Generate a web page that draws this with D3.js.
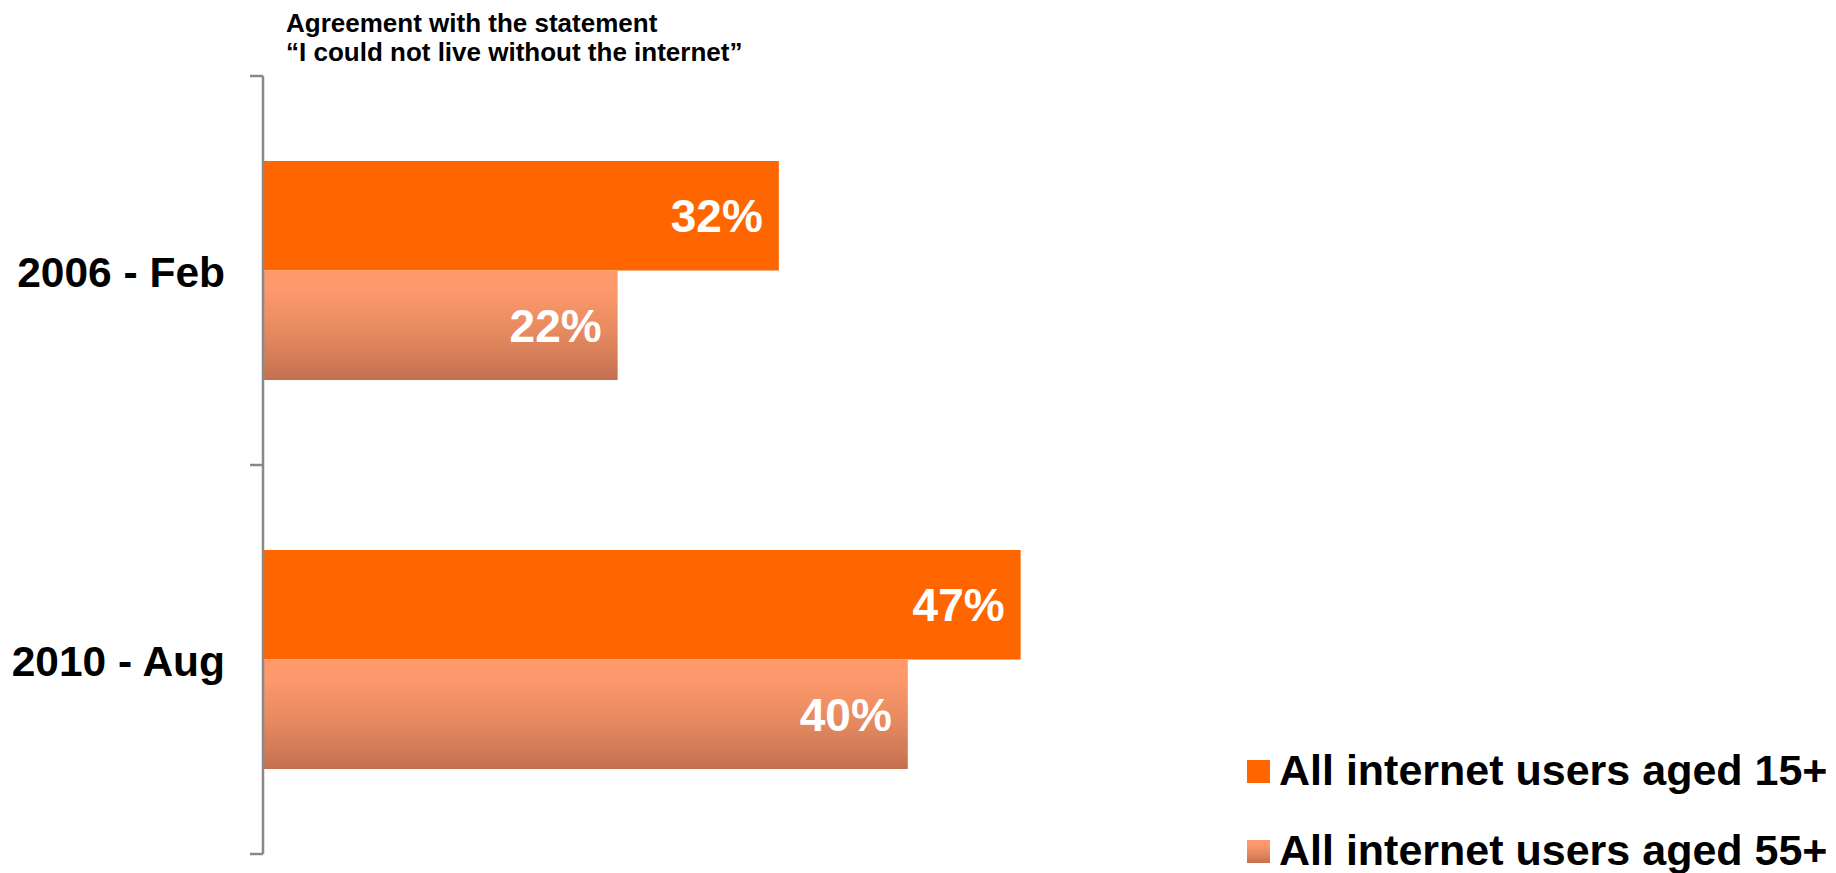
<!DOCTYPE html>
<html>
<head>
<meta charset="utf-8">
<script src="https://cdn.jsdelivr.net/npm/d3@7"></script>
<style>
  html, body { margin: 0; padding: 0; background: #fff; }
  svg { display: block; font-family: "Liberation Sans", Arial, sans-serif; }
</style>
</head>
<body>
<svg id="chart" width="1836" height="873"></svg>
<script>
// ---- Data ----
const categories = ["2006 - Feb", "2010 - Aug"];
const seriesNames = ["All internet users aged 15+", "All internet users aged 55+"];
const values15 = [32, 47];
const values55 = [22, 40];
const titleLines = ["Agreement with the statement", "\u201CI could not live without the internet\u201D"];

const seriesValues = [values15, values55];

const svg = d3.select("#chart");
const defs = svg.append("defs");
const grad = defs.append("linearGradient")
  .attr("id", "lightGrad").attr("x1", 0).attr("y1", 0).attr("x2", 0).attr("y2", 1);
[[0, "#ff9a6c"], [0.2, "#fc986b"], [0.6, "#e3885f"], [1, "#c47050"]].forEach(s =>
  grad.append("stop").attr("offset", s[0]).attr("stop-color", s[1]));
const fills = ["#ff6600", "url(#lightGrad)"];

// ---- Scales ----
const axisX = 263;
const x = d3.scaleLinear().domain([0, 50]).range([axisX, axisX + 806]);
const yCat = d3.scaleBand().domain(categories).range([76, 854]).padding(0);
const ySer = d3.scaleBand().domain(d3.range(seriesNames.length))
  .range([0, yCat.bandwidth()]).paddingInner(0).paddingOuter(0.776);

// ---- Title ----
svg.append("g").selectAll("text").data(titleLines).join("text")
  .attr("x", 286).attr("y", (d, i) => 32 + i * 29)
  .attr("font-size", 26).attr("font-weight", "bold").attr("fill", "#000")
  .text(d => d);

// ---- Bars ----
const groups = svg.append("g").selectAll("g").data(categories).join("g")
  .attr("transform", d => `translate(0,${yCat(d)})`);

groups.each(function (cat, ci) {
  const g = d3.select(this);
  seriesValues.forEach((vals, si) => {
    const v = vals[ci];
    g.append("rect")
      .attr("x", x(0)).attr("y", ySer(si))
      .attr("width", x(v) - x(0)).attr("height", ySer.bandwidth())
      .attr("fill", fills[si]);
    g.append("text")
      .attr("x", x(v) - 16).attr("y", ySer(si) + ySer.bandwidth() / 2)
      .attr("dy", "0.36em").attr("text-anchor", "end")
      .attr("font-size", 46).attr("font-weight", "bold").attr("fill", "#fff")
      .text(v + "%");
  });
});

// ---- Axis (ticks at band boundaries) ----
const axisG = svg.append("g").attr("stroke", "#888888").attr("stroke-width", 2.5);
const yr = yCat.range();
axisG.append("line").attr("x1", axisX).attr("x2", axisX).attr("y1", yr[0]).attr("y2", yr[1]);
const boundaries = categories.map(c => yCat(c)).concat([yr[1]]);
axisG.selectAll("line.tick").data(boundaries).join("line").attr("class", "tick")
  .attr("x1", axisX - 13).attr("x2", axisX).attr("y1", d => d).attr("y2", d => d);

// ---- Category labels ----
svg.append("g").selectAll("text").data(categories).join("text")
  .attr("x", 225).attr("y", d => yCat(d) + yCat.bandwidth() / 2 + 16)
  .attr("text-anchor", "end").attr("font-size", 42.5).attr("font-weight", "bold").attr("fill", "#000")
  .text(d => d);

// ---- Legend ----
const legend = svg.append("g").selectAll("g").data(seriesNames).join("g")
  .attr("transform", (d, i) => `translate(1247,${760 + i * 80})`);
legend.append("rect").attr("width", 23).attr("height", 23).attr("fill", (d, i) => fills[i]);
legend.append("text").attr("x", 32).attr("y", 25)
  .attr("font-size", 43).attr("font-weight", "bold").attr("fill", "#000")
  .text(d => d);
</script>
</body>
</html>
